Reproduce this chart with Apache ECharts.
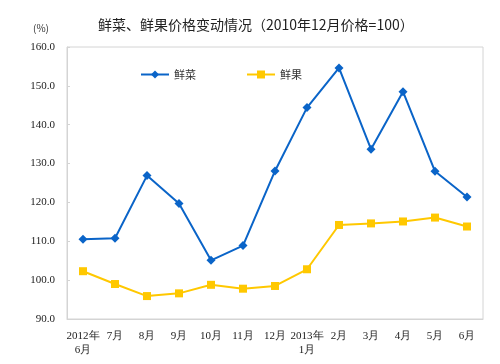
<!DOCTYPE html>
<html><head><meta charset="utf-8">
<script src="https://cdn.jsdelivr.net/npm/echarts@6/dist/echarts.min.js"></script>
<style>html,body{margin:0;padding:0;background:#fff}#c{width:500px;height:364px}</style>
</head><body><div id="c"></div>
<script>
const categories = ['2012年\n6月','7月','8月','9月','10月','11月','12月','2013年\n1月','2月','3月','4月','5月','6月'];
const vegetables = [110.5,110.8,126.9,119.7,105.1,108.9,128.1,144.4,154.6,133.7,148.5,128.0,121.4];
const fruits = [102.3,99.0,95.9,96.6,98.8,97.8,98.5,102.8,114.2,114.6,115.1,116.1,113.8];
const seriesNames = ['鲜菜','鲜果'];
const titleText = '鲜菜、鲜果价格变动情况（2010年12月价格=100）';
const unitText = '(%)';

const chart = echarts.init(document.getElementById('c'));
const serif = '"Liberation Serif","DejaVu Serif",serif';
chart.setOption({
  animation:false,
  backgroundColor:'#fff',
  title:[
    {text:titleText,left:93,top:13,textStyle:{fontFamily:'"Noto Sans CJK SC",sans-serif',fontSize:14,fontWeight:'normal',color:'#222'}},
    {text:unitText,left:28,top:18,textStyle:{fontFamily:'"Noto Sans CJK SC",sans-serif',fontSize:10,fontWeight:'normal',color:'#333'}}
  ],
  legend:{
    left:135,top:64,itemWidth:28,itemHeight:10,itemGap:50,
    textStyle:{fontFamily:'"Noto Sans CJK SC",sans-serif',fontSize:11,color:'#333'},
    data:seriesNames
  },
  grid:{left:67,right:17,top:47,bottom:45,show:true,borderColor:'#d4d4d4',borderWidth:1},
  xAxis:{
    type:'category',data:categories,boundaryGap:true,
    axisLine:{lineStyle:{color:'#d4d4d4'}},
    axisTick:{show:false},
    axisLabel:{interval:0,margin:10,fontFamily:serif,fontSize:11,color:'#222',lineHeight:14}
  },
  yAxis:{
    type:'value',min:90,max:160,interval:10,
    axisLine:{show:true,lineStyle:{color:'#d4d4d4'}},
    axisTick:{show:true,inside:true,length:3,lineStyle:{color:'#d4d4d4'}},
    splitLine:{show:false},
    axisLabel:{margin:12,fontFamily:serif,fontSize:11,color:'#222',formatter:v=>v.toFixed(1)}
  },
  series:[
    {name:seriesNames[0],type:'line',data:vegetables,symbol:'diamond',symbolSize:9,
     lineStyle:{color:'#0a64c8',width:2},itemStyle:{color:'#0a64c8'}},
    {name:seriesNames[1],type:'line',data:fruits,symbol:'rect',symbolSize:8,
     lineStyle:{color:'#ffc800',width:2},itemStyle:{color:'#ffc800'}}
  ]
});
</script></body></html>
